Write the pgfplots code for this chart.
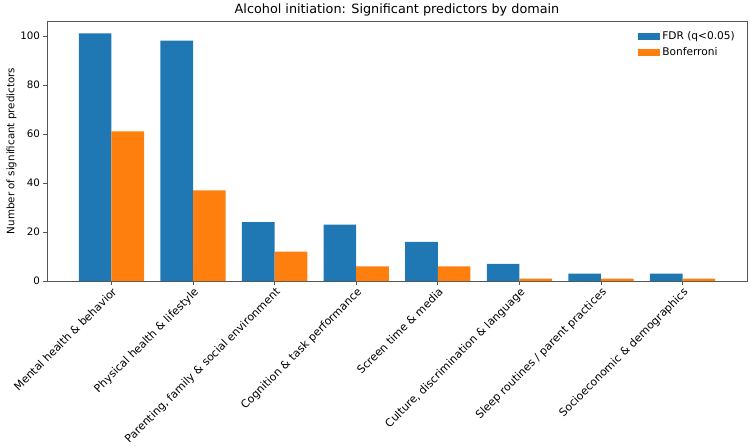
\documentclass[border=0pt]{standalone}
\usepackage{fontspec}
\setmainfont{DejaVu Sans}
\usepackage{pgfplots}
\pgfplotsset{compat=1.18}

\definecolor{fdr}{HTML}{1F77B4}
\definecolor{bonf}{HTML}{FF7F0E}
\definecolor{spine}{HTML}{555555}

\pgfplotstableread{
idx fdr bonf
0 101 61
1 98 37
2 24 12
3 23 6
4 16 6
5 7 1
6 3 1
7 3 1
}\domains

\begin{document}
\begin{tikzpicture}
\begin{axis}[
    name=main,
    at={(0,0)}, anchor=south west,
    scale only axis,
    width=700pt, height=260pt,
    xmin=-0.79, xmax=7.79,
    ymin=0, ymax=106.05,
    ybar, bar width=0.4, bar shift=0pt,
    xtick={0,...,7},
    xticklabels={Mental health \& behavior, Physical health \& lifestyle,
      {Parenting, family \& social environment}, Cognition \& task performance,
      Screen time \& media, {Culture, discrimination \& language},
      Sleep routines / parent practices, Socioeconomic \& demographics},
    x tick label style={rotate=45, anchor=north east, inner sep=1.5pt, font=\fontsize{11}{12}\selectfont},
    ytick={0,20,40,60,80,100},
    y tick label style={font=\fontsize{10.3}{12}\selectfont},
    /pgf/number format/assume math mode=true,
    tick align=outside,
    tick pos=left,
    major tick length=3.5pt,
    tick style={spine, line width=0.6pt},
    axis line style={spine, line width=0.7pt},
    ylabel={Number of significant predictors},
    ylabel style={font=\fontsize{10.3}{12}\selectfont, yshift=-3pt},
    title={Alcohol initiation: Significant predictors by domain},
    title style={font=\fontsize{12.8}{14}\selectfont, yshift=-5pt},
    legend style={at={(0.99,0.975)}, anchor=north east, draw=none, fill=none,
      font=\fontsize{10.6}{12}\selectfont, nodes={font=\fontsize{10.6}{12}\selectfont},
      row sep=2pt},
    legend cell align=left,
    legend image code/.code={\fill[#1, draw=none] (0pt,-3.5pt) rectangle (22pt,3.5pt);},
]
\addplot[fill=fdr, draw=none, bar shift=-0.2] table[x=idx, y=fdr] {\domains};
\addlegendentry{FDR (q<0.05)}
\addplot[fill=bonf, draw=none, bar shift=0.2] table[x=idx, y=bonf] {\domains};
\addlegendentry{Bonferroni}
\end{axis}
\pgfresetboundingbox
\path[use as bounding box] (-47pt,-164pt) rectangle (703pt,281pt);
\end{tikzpicture}
\end{document}
